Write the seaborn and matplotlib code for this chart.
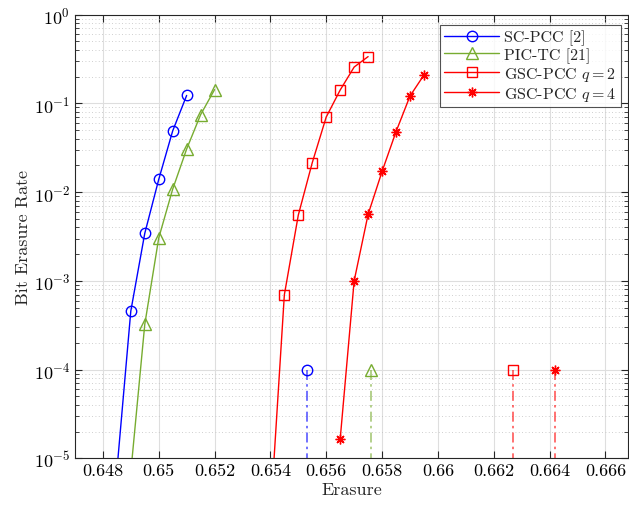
import seaborn as sns
import matplotlib.pyplot as plt
import matplotlib.ticker as ticker
import pandas as pnd

sc_x = [0.6485, 0.649, 0.6495, 0.650, 0.6505, 0.651]
sc_y = [7.2e-6, 4.57e-4, 3.43e-3, 1.39e-2, 4.9e-2, 0.123]

pic_x = [0.649, 0.6495, 0.650, 0.6505, 0.651, 0.6515, 0.652]
pic_y = [7e-6, 3.23e-4, 3.04e-3, 1.08e-2, 3.06e-2, 7.46e-2, 0.143]

gsc2_x = [0.654, 0.6545, 0.655, 0.6555, 0.656, 0.6565, 0.657, 0.6575]
gsc2_y = [2.2e-6, 6.97e-4, 5.52e-3, 2.15e-2, 7.03e-2, 0.1416, 0.257, 0.337]

gsc4_x = [0.6565, 0.657, 0.6575, 0.658, 0.6585, 0.659, 0.6595]
gsc4_y = [1.65e-5, 1.0e-3, 5.62e-3, 1.71e-2, 4.8e-2, 0.121, 0.209]

# threshold markers at 1e-4 with dash-dot drop lines
ref_x = [0.6553, 0.6576, 0.6627, 0.6642]
ref_y = 1e-4
ref_floor = 1e-6

blue = (0, 0, 1)
green = (0.466, 0.674, 0.188)
red = (1, 0, 0)

sns.set_style("whitegrid")
plt.rcParams['font.family'] = 'cmr10'
plt.rcParams['mathtext.fontset'] = 'cm'
plt.rcParams['axes.formatter.use_mathtext'] = True
plt.rcParams['font.size'] = 13

fig = plt.figure(figsize=(6.29, 5.06), dpi=100)
ax = fig.add_axes([0.1192, 0.0923, 0.8788, 0.8767])
ax.set_yscale('log')

series = [
    ("SC-PCC [2]", sc_x, sc_y, blue, 'o', 7.5),
    ("PIC-TC [21]", pic_x, pic_y, green, '^', 8),
    ("GSC-PCC $q=2$", gsc2_x, gsc2_y, red, 's', 6.5),
    ("GSC-PCC $q=4$", gsc4_x, gsc4_y, red, (8, 2, 0), 7),
]

for (label, xs, ys, col, mk, ms), rx in zip(series, ref_x):
    df = pnd.DataFrame({"Erasure": xs, "BER": ys})
    sns.lineplot(data=df, x="Erasure", y="BER", ax=ax, color=col, lw=1,
                 marker=mk, markersize=ms, markerfacecolor='none',
                 markeredgecolor=col, markeredgewidth=1, sort=False,
                 label=label)
    ax.plot([rx, rx], [ref_y, ref_floor], color=col, lw=1.2, alpha=0.65,
            ls=(0, (6, 2.5, 1.5, 2.5)))
    ax.plot([rx], [ref_y], linestyle='none', marker=mk, markersize=ms,
            markerfacecolor='none', markeredgecolor=col, markeredgewidth=1)

ax.set_xlim(0.647, 0.6668)
ax.set_ylim(1e-5, 1)
ax.set_xticks([0.648, 0.65, 0.652, 0.654, 0.656, 0.658, 0.66, 0.662,
               0.664, 0.666])
ax.xaxis.set_major_formatter(ticker.FuncFormatter(lambda v, p: f"{v:g}"))
ax.yaxis.set_major_locator(ticker.LogLocator(base=10, numticks=10))
ax.yaxis.set_minor_locator(ticker.LogLocator(base=10, subs=range(2, 10),
                                             numticks=20))
ax.yaxis.set_minor_formatter(ticker.NullFormatter())

ax.grid(True, which='major', color='0.87', lw=0.8, ls='-')
ax.grid(True, which='minor', axis='y', color='0.75', lw=0.6, ls=(0, (1, 3)))
ax.tick_params(direction='in', which='both', top=True, right=True,
               bottom=True, left=True, colors='0.15', labelcolor='k',
               labelsize=13)
ax.tick_params(which='major', length=5)
ax.tick_params(which='minor', length=3)
for s in ax.spines.values():
    s.set_color('0.15')
    s.set_linewidth(0.8)

ax.set_xlabel('Erasure', fontsize=13, labelpad=2)
ax.set_ylabel('Bit Erasure Rate', fontsize=13, labelpad=2)

leg = ax.legend(loc='upper right', bbox_to_anchor=(0.987, 0.977),
                fontsize=11.5, frameon=True, fancybox=False, borderpad=0.3,
                labelspacing=0.12, handlelength=3.4, handletextpad=0.3,
                borderaxespad=0)
leg.get_frame().set_edgecolor('0.15')
leg.get_frame().set_linewidth(0.8)

plt.savefig('out.png', dpi=100)
